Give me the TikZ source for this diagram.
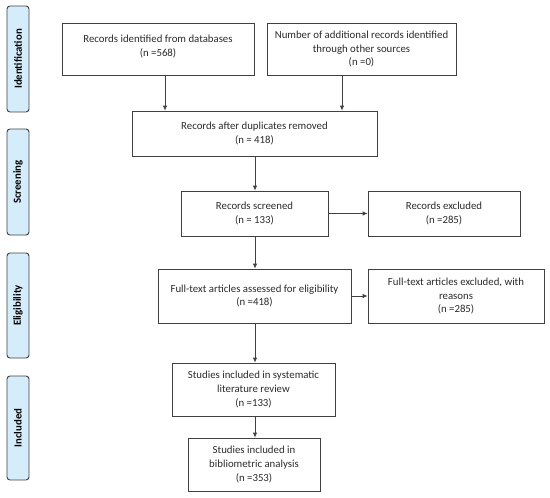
\documentclass[tikz,border=0pt]{standalone}
\usepackage{fontspec}
\setmainfont{Carlito}
\usetikzlibrary{arrows.meta}
\definecolor{linec}{HTML}{404040}
\definecolor{txtc}{HTML}{2A2A2A}
\definecolor{sidefill}{HTML}{D5ECFB}
\tikzset{
  box/.style={draw=linec, line width=0.8pt, align=center, text=txtc,
    font=\fontsize{10.8}{13.6}\selectfont, inner sep=2pt},
  side/.style={draw=linec, line width=0.9pt, fill=sidefill, rounded corners=3pt,
    rotate=90, text=black, font=\fontsize{10.8}{12}\selectfont\bfseries, inner sep=1pt},
  arr/.style={draw=linec, line width=0.8pt, -{Latex[length=5pt,width=4.5pt]}}
}
\begin{document}
\begin{tikzpicture}[x=1pt,y=-1pt]
\useasboundingbox (0,0) rectangle (550,498);
% side labels
\node[side, minimum width=106, minimum height=22] (sid) at (18,59) {Identification};
\node[side, minimum width=106, minimum height=22] (ssc) at (18,182) {Screening};
\node[side, minimum width=105, minimum height=22] (sel) at (18,305.5) {Eligibility};
\node[side, minimum width=104, minimum height=22] (sin) at (18,428) {Included};
% boxes
\node[box, minimum width=192, minimum height=52] (b1) at (158,49) {Records identified from databases\\(n =568)\\[-7.5pt]};
\node[box, minimum width=189, minimum height=52] (b2) at (361.5,49) {Number of additional records identified\\through other sources\\(n =0)};
\node[box, minimum width=245, minimum height=45] (b3) at (254.5,133.5) {Records after duplicates removed\\(n = 418)};
\node[box, minimum width=147, minimum height=45] (b4) at (254.5,213.5) {Records screened\\(n = 133)};
\node[box, minimum width=152, minimum height=45] (b5) at (444,213.5) {Records excluded\\(n =285)};
\node[box, minimum width=193, minimum height=54] (b6) at (254.5,296) {Full-text articles assessed for eligibility\\(n =418)};
\node[box, minimum width=176, minimum height=54] (b7) at (456,296) {Full-text articles excluded, with\\reasons\\(n =285)};
\node[box, minimum width=163, minimum height=53] (b8) at (253.5,389.5) {Studies included in systematic\\literature review\\(n =133)};
\node[box, minimum width=132, minimum height=53] (b9) at (254,464.5) {Studies included in\\bibliometric analysis\\(n =353)};
% helper coordinates
\coordinate (c1) at (165,0);
\coordinate (c2) at (342,0);
\coordinate (c3) at (255,0);
% connectors
\draw[arr] (b1.south -| c1) -- (b3.north -| c1);
\draw[arr] (b2.south -| c2) -- (b3.north -| c2);
\draw[arr] (b3.south -| c3) -- (b4.north -| c3);
\draw[arr] (b4.east) -- (b5.west);
\draw[arr] (b4.south -| c3) -- (b6.north -| c3);
\draw[arr] (b6.east) -- (b7.west);
\draw[arr] (b6.south -| c3) -- (b8.north -| c3);
\draw[arr] (b8.south -| c3) -- (b9.north -| c3);
\end{tikzpicture}
\end{document}
